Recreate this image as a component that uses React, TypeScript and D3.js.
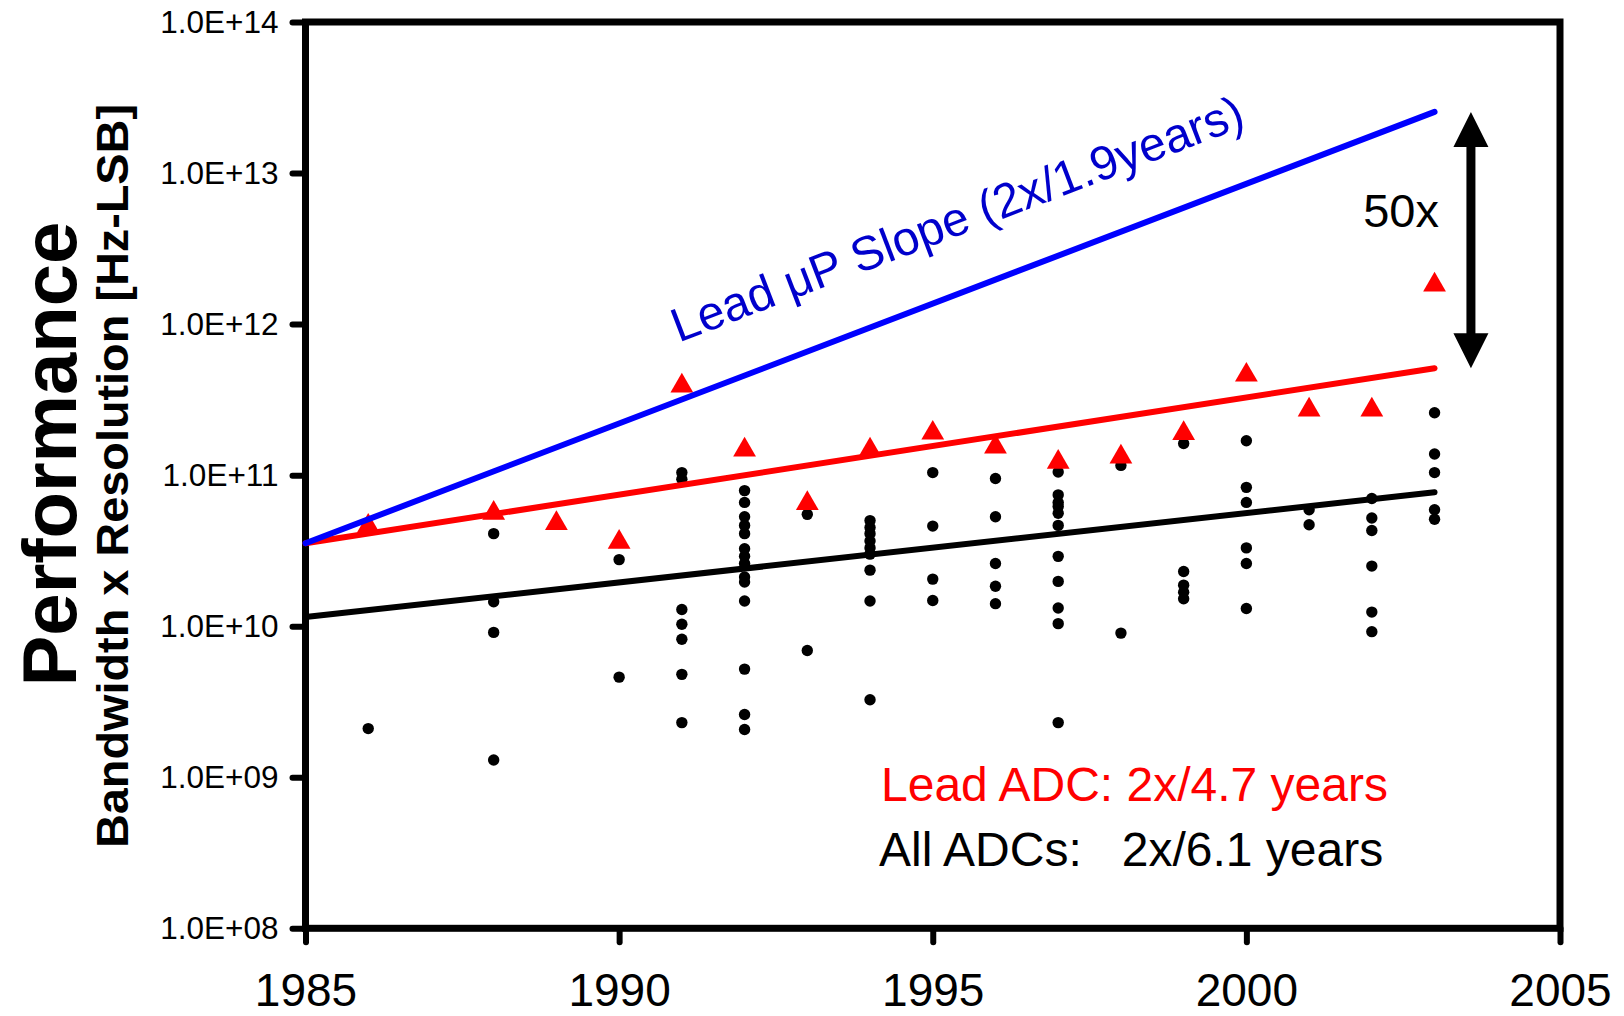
import React, { useEffect, useRef } from "react";
import * as d3 from "d3";

// All ADCs (black dots), read per year column
const adcYears = [
  1986,
  1988, 1988, 1988, 1988,
  1990, 1990,
  1991, 1991, 1991, 1991, 1991, 1991, 1991,
  1992, 1992, 1992, 1992, 1992, 1992, 1992, 1992, 1992, 1992, 1992, 1992, 1992, 1992,
  1993, 1993,
  1994, 1994, 1994, 1994, 1994, 1994, 1994, 1994, 1994,
  1995, 1995, 1995, 1995,
  1996, 1996, 1996, 1996, 1996,
  1997, 1997, 1997, 1997, 1997, 1997, 1997, 1997, 1997, 1997, 1997,
  1998, 1998,
  1999, 1999, 1999, 1999, 1999,
  2000, 2000, 2000, 2000, 2000, 2000,
  2001, 2001,
  2002, 2002, 2002, 2002, 2002, 2002,
  2003, 2003, 2003, 2003, 2003,
];
const adcValues = [
  2.1e9,
  4.1e10, 1.45e10, 9.1e9, 1.3e9,
  2.76e10, 4.6e9,
  1.04e11, 9.4e10, 1.29e10, 1.03e10, 8.2e9, 4.8e9, 2.3e9,
  7.9e10, 6.6e10, 5.3e10, 4.65e10, 4.1e10, 3.26e10, 2.9e10, 2.6e10, 2.12e10, 1.96e10, 1.47e10, 5.2e9, 2.6e9, 2.07e9,
  5.5e10, 6.9e9,
  5.0e10, 4.5e10, 4.1e10, 3.66e10, 3.3e10, 3.0e10, 2.35e10, 1.47e10, 3.26e9,
  1.04e11, 4.6e10, 2.05e10, 1.48e10,
  9.5e10, 5.3e10, 2.6e10, 1.84e10, 1.41e10,
  1.05e11, 7.4e10, 6.6e10, 6.2e10, 5.6e10, 4.65e10, 2.9e10, 1.98e10, 1.32e10, 1.04e10, 2.3e9,
  1.16e11, 9.0e9,
  1.62e11, 2.3e10, 1.87e10, 1.68e10, 1.52e10,
  1.69e11, 8.3e10, 6.6e10, 3.3e10, 2.6e10, 1.31e10,
  5.9e10, 4.7e10,
  7.0e10, 5.2e10, 4.3e10, 2.5e10, 1.24e10, 9.2e9,
  2.59e11, 1.38e11, 1.04e11, 5.9e10, 5.1e10,
];

// Lead ADC per year (red triangles)
const leadYears = [1986, 1988, 1989, 1990, 1991, 1992, 1993, 1994, 1995, 1996, 1997, 1998, 1999, 2000, 2001, 2002, 2003];
const leadValues = [4.6e10, 5.6e10, 4.8e10, 3.6e10, 3.9e11, 1.47e11, 6.5e10, 1.47e11, 1.9e11, 1.54e11, 1.22e11, 1.32e11, 1.89e11, 4.6e11, 2.7e11, 2.7e11, 1.82e12];

// trend lines, start and end
const trendYears = [1985, 2003];
const upTrend = [3.54e10, 2.54e13];
const leadTrend = [3.54e10, 5.1e11];
const allTrend = [1.15e10, 7.7e10];

const xTicks = [1985, 1990, 1995, 2000, 2005];
const yTicks = [1e8, 1e9, 1e10, 1e11, 1e12, 1e13, 1e14];
const yTickLabels = ["1.0E+08", "1.0E+09", "1.0E+10", "1.0E+11", "1.0E+12", "1.0E+13", "1.0E+14"];

const FONT = "'Liberation Sans', Arial, Helvetica, sans-serif";

export default function App() {
  const ref = useRef<SVGSVGElement>(null);

  useEffect(() => {
    const svg = d3.select(ref.current);
    svg.selectAll("*").remove();

    const x = d3.scaleLinear().domain([1985, 2005]).range([305.5, 1560]);
    const y = d3.scaleLog().domain([1e8, 1e14]).range([928.3, 22]);

    // Axes ticks + labels
    const gx = svg
      .append("g")
      .attr("transform", `translate(0,${y(1e8)})`)
      .call(
        d3
          .axisBottom(x)
          .tickValues(xTicks)
          .tickFormat(d3.format("d") as any)
          .tickSize(14)
          .tickSizeOuter(0)
          .tickPadding(31)
      );
    gx.select(".domain").remove();
    gx.attr("font-size", 46).attr("font-family", FONT);
    gx.selectAll("line").attr("stroke-width", 6).attr("stroke-linecap", "round");
    gx.selectAll("text").attr("fill", "#000");

    const gy = svg
      .append("g")
      .attr("transform", `translate(${x(1985)},0)`)
      .call(
        d3
          .axisLeft(y)
          .tickValues(yTicks)
          .tickFormat((d, i) => yTickLabels[i])
          .tickSize(13)
          .tickSizeOuter(0)
          .tickPadding(14)
      );
    gy.select(".domain").remove();
    gy.attr("font-size", 31.5).attr("font-family", FONT);
    gy.selectAll("line").attr("stroke-width", 6).attr("stroke-linecap", "round");
    gy.selectAll("text").attr("fill", "#000");

    // Frame
    svg
      .append("rect")
      .attr("x", x(1985))
      .attr("y", y(1e14))
      .attr("width", x(2005) - x(1985))
      .attr("height", y(1e8) - y(1e14))
      .attr("fill", "none")
      .attr("stroke", "#000")
      .attr("stroke-width", 7);

    // All ADC dots
    svg
      .append("g")
      .selectAll("circle")
      .data(adcValues)
      .join("circle")
      .attr("cx", (d, i) => x(adcYears[i]))
      .attr("cy", (d) => y(d))
      .attr("r", 5.7)
      .attr("fill", "#000");

    // Lead ADC triangles
    svg
      .append("g")
      .selectAll("path")
      .data(leadValues)
      .join("path")
      .attr("d", d3.symbol().type(d3.symbolTriangle).size(225)())
      .attr("transform", (d, i) => `translate(${x(leadYears[i])},${y(d)})`)
      .attr("fill", "#ff0000");

    // Trend lines
    const line = d3
      .line<number>()
      .x((d, i) => x(trendYears[i]))
      .y((d) => y(d));
    [
      [allTrend, "#000"],
      [leadTrend, "#ff0000"],
      [upTrend, "#0000ff"],
    ].forEach(([data, color]) => {
      svg
        .append("path")
        .datum(data as number[])
        .attr("d", line)
        .attr("fill", "none")
        .attr("stroke", color as string)
        .attr("stroke-width", 6)
        .attr("stroke-linecap", "round");
    });

    // Blue slope label, parallel to the uP line
    const ang =
      (Math.atan2(y(upTrend[1]) - y(upTrend[0]), x(trendYears[1]) - x(trendYears[0])) * 180) / Math.PI;
    const ly = 1990.95;
    const lv = Math.exp(
      Math.log(upTrend[0]) +
        ((ly - trendYears[0]) / (trendYears[1] - trendYears[0])) * (Math.log(upTrend[1]) - Math.log(upTrend[0]))
    );
    svg
      .append("text")
      .attr("transform", `translate(${x(ly)},${y(lv) - 58}) rotate(${ang})`)
      .attr("font-family", FONT)
      .attr("font-size", 48)
      .attr("fill", "#0000cc")
      .text("Lead \u03bcP Slope (2x/1.9years)");

    // 50x double arrow between uP and lead ADC trend ends
    const ax = x(2003.58);
    const aTop = y(upTrend[1]);
    const aBot = y(leadTrend[1]);
    const head = 35;
    const hw = 17.5;
    svg
      .append("line")
      .attr("x1", ax)
      .attr("x2", ax)
      .attr("y1", aTop + head - 2)
      .attr("y2", aBot - head + 2)
      .attr("stroke", "#000")
      .attr("stroke-width", 9);
    svg
      .append("path")
      .attr(
        "d",
        `M${ax},${aTop}L${ax + hw},${aTop + head}L${ax - hw},${aTop + head}Z` +
          `M${ax},${aBot}L${ax + hw},${aBot - head}L${ax - hw},${aBot - head}Z`
      )
      .attr("fill", "#000");
    svg
      .append("text")
      .attr("x", ax - 32)
      .attr("y", 227)
      .attr("text-anchor", "end")
      .attr("font-family", FONT)
      .attr("font-size", 47)
      .attr("fill", "#000")
      .text("50x");

    // Slope notes
    svg
      .append("text")
      .attr("x", 881)
      .attr("y", 801)
      .attr("font-family", FONT)
      .attr("font-size", 48)
      .attr("fill", "#ff0000")
      .text("Lead ADC: 2x/4.7 years");
    svg
      .append("text")
      .attr("x", 879)
      .attr("y", 866)
      .attr("font-family", FONT)
      .attr("font-size", 48)
      .attr("fill", "#000")
      .style("white-space", "pre")
      .text("All ADCs:   2x/6.1 years");

    // Y titles
    svg
      .append("text")
      .attr("transform", "translate(76,454) rotate(-90)")
      .attr("text-anchor", "middle")
      .attr("font-family", FONT)
      .attr("font-weight", "bold")
      .attr("font-size", 76)
      .attr("fill", "#000")
      .text("Performance");
    svg
      .append("text")
      .attr("transform", "translate(128,476) rotate(-90)")
      .attr("text-anchor", "middle")
      .attr("font-family", FONT)
      .attr("font-weight", "bold")
      .attr("font-size", 44)
      .attr("textLength", 744)
      .attr("lengthAdjust", "spacingAndGlyphs")
      .attr("fill", "#000")
      .text("Bandwidth x Resolution [Hz-LSB]");
  }, []);

  return (
    <div>
      <svg
        ref={ref}
        width={1624}
        height={1016}
        style={{ position: "absolute", left: 0, top: 0, background: "#fff" }}
      ></svg>
    </div>
  );
}
